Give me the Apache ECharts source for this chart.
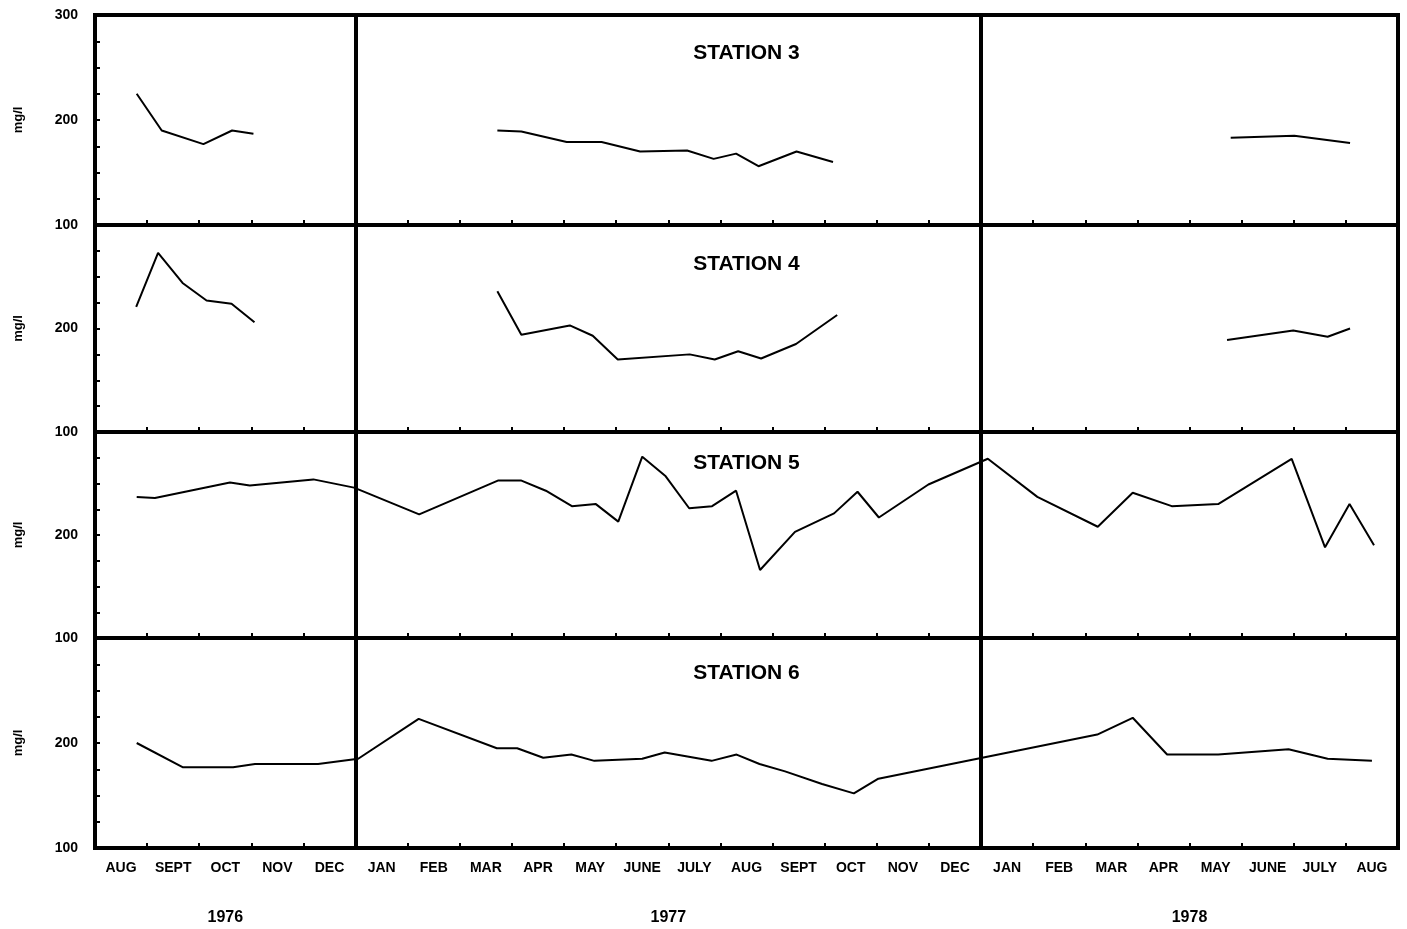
<!DOCTYPE html>
<html>
<head>
<meta charset="utf-8">
<script src="https://cdn.jsdelivr.net/npm/echarts@6/dist/echarts.min.js"></script>
<style>
html,body{margin:0;padding:0;background:#fff;}
#chart{width:1407px;height:929px;}
</style>
</head>
<body>
<div id="chart"></div>
<script>
// ---- data (month index: 0 = start of Aug 1976; null = gap in record) ----
const monthNames = ['AUG','SEPT','OCT','NOV','DEC','JAN','FEB','MAR','APR','MAY','JUNE','JULY','AUG','SEPT','OCT','NOV','DEC','JAN','FEB','MAR','APR','MAY','JUNE','JULY','AUG'];
const yearLabels = ['1976','1977','1978'];
const yearLabelPos = [2.5, 11, 21];
const yearBoundaries = [5, 17];
const stationNames = ['STATION 3','STATION 4','STATION 5','STATION 6'];

const st3Month = [0.80,1.28,2.08,2.63,3.04,null,7.72,8.18,9.05,9.72,10.46,11.36,11.87,12.30,12.73,13.46,14.16,null,21.79,23.01,24.08];
const st3Value = [225,190,177,190,187,null,190,189,179,179,170,171,163,168,156,170,160,null,183,185,178];

const st4Month = [0.79,1.21,1.68,2.14,2.62,3.06,null,7.72,8.18,9.11,9.55,10.03,11.41,11.89,12.34,12.78,13.45,14.24,null,21.72,22.99,23.65,24.08];
const st4Value = [221,273,244,227,224,206,null,236,194,203,193,170,175,170,178,171,185,213,null,189,198,192,200];

const st5Month = [0.80,1.15,2.59,2.97,4.19,4.97,6.22,7.74,8.17,8.65,9.15,9.61,10.04,10.50,10.95,11.40,11.84,12.30,12.76,13.43,14.18,14.63,15.04,15.99,17.13,18.08,19.24,19.91,20.66,21.55,22.96,23.60,24.07,24.54];
const st5Value = [237,236,251,248,254,246,220,253,253,243,228,230,213,276,257,226,228,243,166,203,221,242,217,249,274,237,208,241,228,230,274,188,230,190];

const st6Month = [0.80,1.68,2.65,3.07,4.28,5.05,6.21,7.71,8.10,8.60,9.14,9.58,10.50,10.93,11.83,12.31,12.75,13.24,13.95,14.56,15.03,19.23,19.91,20.57,21.55,22.90,23.65,24.50];
const st6Value = [200,177,177,180,180,185,223,195,195,186,189,183,185,191,183,189,180,173,161,152,166,208,224,189,189,194,185,183];

const stationMonths = [st3Month, st4Month, st5Month, st6Month];
const stationValues = [st3Value, st4Value, st5Value, st6Value];

// ---- layout ----
const FONT = "'Liberation Sans', Arial, Helvetica, sans-serif";
const gridLeft = 95, gridRight = 9;
const panelTop = [15, 225, 432, 638];
const panelH = [210, 207, 206, 210];
const titleY = [53, 264, 463, 673];
const gridCenterX = gridLeft + (1407 - gridLeft - gridRight) / 2;

function segments(ms, vs) {
  const segs = []; let cur = [];
  for (let i = 0; i < ms.length; i++) {
    if (vs[i] == null) { if (cur.length) segs.push(cur); cur = []; }
    else cur.push([ms[i], vs[i]]);
  }
  if (cur.length) segs.push(cur);
  return segs;
}

const grid = [], xAxis = [], yAxis = [], series = [], title = [];
for (let p = 0; p < 4; p++) {
  grid.push({left: gridLeft, right: gridRight, top: panelTop[p], height: panelH[p],
    show: true, borderColor: '#000', borderWidth: 4, backgroundColor: 'transparent'});
  xAxis.push({type: 'value', gridIndex: p, min: 0, max: 25, interval: 1,
    axisLine: {show: false},
    axisTick: {show: true, inside: true, length: 5, lineStyle: {color: '#000', width: 2}},
    axisLabel: {show: false}, splitLine: {show: false}});
  yAxis.push({type: 'value', gridIndex: p, min: 100, max: 300, interval: 25,
    axisLine: {show: false},
    axisTick: {show: true, inside: true, length: 5, lineStyle: {color: '#000', width: 2}},
    splitLine: {show: false},
    axisLabel: {show: true, margin: 17, color: '#000', fontWeight: 'bold', fontSize: 14, fontFamily: FONT,
      showMinLabel: true, showMaxLabel: true,
      formatter: (v) => (v % 100 === 0 && (p === 0 || v !== 300)) ? String(v) : ''},
    name: 'mg/l', nameLocation: 'middle', nameRotate: 90, nameGap: 70,
    nameTextStyle: {color: '#000', fontWeight: 'bold', fontSize: 13, fontFamily: FONT}});
  title.push({text: stationNames[p], left: gridCenterX, top: titleY[p] - 11, textAlign: 'center', padding: 0,
    textStyle: {color: '#000', fontWeight: 'bold', fontSize: 21, fontFamily: FONT, lineHeight: 22}});
  const segs = segments(stationMonths[p], stationValues[p]);
  segs.forEach((seg, k) => {
    series.push({type: 'line', xAxisIndex: p, yAxisIndex: p, data: seg, showSymbol: false, symbol: 'none',
      lineStyle: {color: '#000', width: 2}, silent: true, z: 3,
      markLine: k === 0 ? {silent: true, symbol: 'none', label: {show: false},
        lineStyle: {color: '#000', width: 4, type: 'solid'},
        data: yearBoundaries.map(b => ({xAxis: b}))} : undefined});
  });
}
// month labels
xAxis.push({type: 'category', gridIndex: 3, data: monthNames, boundaryGap: true, position: 'bottom',
  axisLine: {show: false}, axisTick: {show: false}, splitLine: {show: false},
  axisLabel: {interval: 0, margin: 13, color: '#000', fontWeight: 'bold', fontSize: 14, fontFamily: FONT}});
// year labels
xAxis.push({type: 'value', gridIndex: 3, min: 0, max: 25, position: 'bottom', offset: 54,
  axisLine: {show: false}, axisTick: {show: false}, splitLine: {show: false},
  axisLabel: {customValues: yearLabelPos, color: '#000', fontWeight: 'bold', fontSize: 16, fontFamily: FONT,
    formatter: (v) => { const i = yearLabelPos.indexOf(v); return i >= 0 ? yearLabels[i] : ''; }}});

const chart = echarts.init(document.getElementById('chart'), null, {renderer: 'canvas'});
chart.setOption({animation: false, backgroundColor: '#fff', title, grid, xAxis, yAxis, series});
</script>
</body>
</html>
